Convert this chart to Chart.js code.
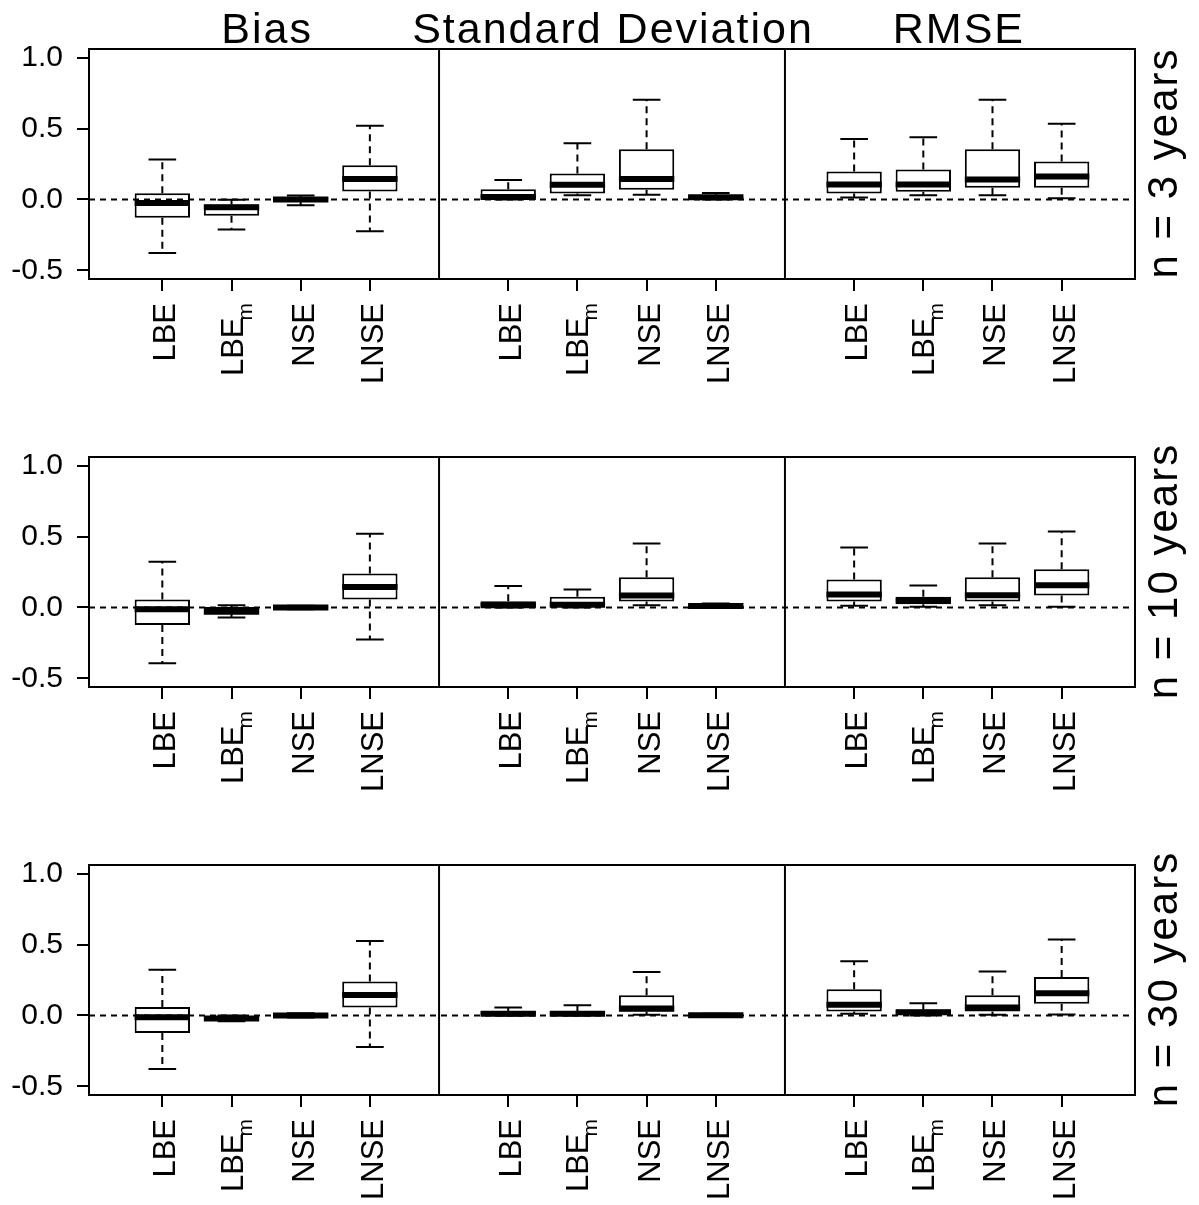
<!DOCTYPE html>
<html>
<head>
<meta charset="utf-8">
<script src="https://cdn.jsdelivr.net/npm/chart.js@4.4.1/dist/chart.umd.min.js"></script>
<style>
html,body{margin:0;padding:0;background:#fff;overflow:hidden;}
#wrap{position:relative;width:1199px;height:1205px;overflow:hidden;background:#fff;}
canvas{position:absolute;left:0;}
</style>
</head>
<body>
<div id="wrap">
<canvas id="row0" width="1199" height="408" style="top:0px"></canvas>
<canvas id="row1" width="1199" height="408" style="top:408px"></canvas>
<canvas id="row2" width="1199" height="408" style="top:816px"></canvas>
</div>
<script>
// ---------- DATA ----------
const panelTitles = ['Bias', 'Standard Deviation', 'RMSE'];
const rowLabels = ['n = 3 years', 'n = 10 years', 'n = 30 years'];
const catMain = ['LBE', 'LBE', 'NSE', 'LNSE'];
const catSub  = ['',    'm',   '',    ''];
const positions = [1, 2, 3, 4, 6, 7, 8, 9, 11, 12, 13, 14];
const panelDividers = [5, 10];
const yTicks = [-0.5, 0, 0.5, 1.0];
const ylim = [-0.5, 1.0];
const xlim = [0.5, 14.5];
const refValue = 0;

// order inside each row: Bias(LBE,LBEm,NSE,LNSE), SD(...), RMSE(...)
const n3_lower  = [-0.377, -0.211, -0.040, -0.223,  0.000, 0.030, 0.033, 0.000,  0.014, 0.030, 0.030, 0.009];
const n3_q1     = [-0.129, -0.115, -0.012,  0.056,  0.005, 0.042, 0.068, 0.008,  0.042, 0.054, 0.082, 0.082];
const n3_median = [-0.025, -0.055,  0.000,  0.145,  0.018, 0.103, 0.145, 0.015,  0.105, 0.105, 0.141, 0.162];
const n3_q3     = [ 0.044, -0.035,  0.015,  0.241,  0.072, 0.183, 0.354, 0.025,  0.197, 0.211, 0.354, 0.267];
const n3_upper  = [ 0.281, -0.002,  0.028,  0.520,  0.138, 0.396, 0.703, 0.045,  0.426, 0.438, 0.703, 0.534];

const n10_lower  = [-0.393, -0.070, -0.012, -0.225,  0.000, 0.000, 0.016, 0.000,  0.012, 0.005, 0.016, 0.005];
const n10_q1     = [-0.124, -0.045, -0.005,  0.056,  0.005, 0.008, 0.042, 0.004,  0.042, 0.023, 0.042, 0.084];
const n10_median = [-0.012, -0.030,  0.000,  0.145,  0.016, 0.020, 0.085, 0.010,  0.091, 0.050, 0.087, 0.157];
const n10_q3     = [ 0.056,  0.003,  0.005,  0.239,  0.044, 0.075, 0.213, 0.018,  0.197, 0.075, 0.213, 0.269];
const n10_upper  = [ 0.323,  0.016,  0.012,  0.520,  0.152, 0.126, 0.450, 0.028,  0.422, 0.155, 0.450, 0.536];

const n30_lower  = [-0.377, -0.040, -0.015, -0.222,  0.000, 0.000, 0.005, 0.000,  0.012, 0.000, 0.005, 0.007];
const n30_q1     = [-0.124, -0.032, -0.008,  0.056,  0.003, 0.003, 0.026, 0.000,  0.028, 0.007, 0.028, 0.082];
const n30_median = [-0.012, -0.022,  0.000,  0.145,  0.012, 0.012, 0.050, 0.002,  0.075, 0.023, 0.056, 0.157];
const n30_q3     = [ 0.059, -0.008,  0.008,  0.239,  0.028, 0.028, 0.143, 0.009,  0.185, 0.042, 0.143, 0.272];
const n30_upper  = [ 0.323,  0.000,  0.015,  0.525,  0.056, 0.073, 0.307, 0.013,  0.382, 0.087, 0.309, 0.536];

// ---------- STYLE ----------
const FONT = '"Liberation Sans", Arial, Helvetica, sans-serif';
const BOX_HALF = 0.4;   // boxwex 0.8
const CAP_HALF = 0.2;   // staplewex 0.5
const EXPAND = 0.04;

Chart.defaults.font.family = FONT;
Chart.defaults.color = '#000';

const rows = [
  {lower: n3_lower,  q1: n3_q1,  median: n3_median,  q3: n3_q3,  upper: n3_upper},
  {lower: n10_lower, q1: n10_q1, median: n10_median, q3: n10_q3, upper: n10_upper},
  {lower: n30_lower, q1: n30_q1, median: n30_median, q3: n30_q3, upper: n30_upper}
];

const decor = {
  id: 'decor',
  afterDatasetsDraw(chart) {
    const {ctx, chartArea: a, scales: {x, y}} = chart;
    ctx.save();
    ctx.strokeStyle = '#000';
    ctx.lineWidth = 2;
    // reference line
    ctx.setLineDash([6, 5]);
    const y0 = y.getPixelForValue(refValue);
    ctx.beginPath(); ctx.moveTo(a.left, y0); ctx.lineTo(a.right, y0); ctx.stroke();
    ctx.setLineDash([]);
    // dividers
    panelDividers.forEach(d => {
      const px = x.getPixelForValue(d);
      ctx.beginPath(); ctx.moveTo(px, a.top); ctx.lineTo(px, a.bottom); ctx.stroke();
    });
    ctx.strokeRect(a.left, a.top, a.right - a.left, a.bottom - a.top);
    ctx.restore();
  },
  afterDraw(chart, args, opts) {
    const {ctx, chartArea: a, scales: {x}} = chart;
    ctx.save();
    ctx.fillStyle = '#000';
    // category labels (rotated)
    const endY = a.bottom + 24;
    positions.forEach((p, i) => {
      const k = i % catMain.length;
      const px = x.getPixelForValue(p);
      const main = catMain[k], sub = catSub[k];
      ctx.textAlign = 'right';
      ctx.textBaseline = 'alphabetic';
      if (!sub) {
        ctx.save();
        ctx.translate(px + 13, endY);
        ctx.rotate(-Math.PI / 2);
        ctx.font = '31px ' + FONT;
        ctx.fillText(main, 0, 0);
        ctx.restore();
      } else {
        ctx.font = '21px ' + FONT;
        const sw = ctx.measureText(sub).width;
        ctx.save();
        ctx.translate(px + 20, endY);
        ctx.rotate(-Math.PI / 2);
        ctx.fillText(sub, 0, 0);
        ctx.restore();
        ctx.save();
        ctx.translate(px + 11, endY + sw - 3);
        ctx.rotate(-Math.PI / 2);
        ctx.font = '31px ' + FONT;
        ctx.fillText(main, 0, 0);
        ctx.restore();
      }
    });
    // titles
    if (opts.showTitles) {
      ctx.font = '43px ' + FONT;
      ctx.textAlign = 'center';
      ctx.textBaseline = 'alphabetic';
      try { ctx.letterSpacing = '2px'; } catch (e) {}
      panelTitles.forEach((t, j) => {
        const grp = positions.slice(j * 4, j * 4 + 4);
        const c = (grp[0] + grp[grp.length - 1]) / 2;
        ctx.fillText(t, x.getPixelForValue(c) + 1, a.top - 6);
      });
    }
    // row label
    ctx.save();
    ctx.font = '42px ' + FONT;
    try { ctx.letterSpacing = '2px'; } catch (e) {}
    ctx.textAlign = 'center';
    ctx.textBaseline = 'alphabetic';
    ctx.translate(a.right + 42, (a.top + a.bottom) / 2);
    ctx.rotate(-Math.PI / 2);
    ctx.fillText(opts.rowLabel, 1, 0);
    ctx.restore();
    ctx.restore();
  }
};

function buildRow(r) {
  const d = rows[r];
  const boxes = positions.map((p, i) => ({x: p, y: [d.q1[i], d.q3[i]]}));
  const meds = [], whisk = [], caps = [];
  positions.forEach((p, i) => {
    meds.push({x: p - BOX_HALF, y: d.median[i]}, {x: p + BOX_HALF, y: d.median[i]}, {x: p, y: null});
    whisk.push({x: p, y: d.q3[i]}, {x: p, y: d.upper[i]}, {x: p, y: null},
               {x: p, y: d.q1[i]}, {x: p, y: d.lower[i]}, {x: p, y: null});
    caps.push({x: p - CAP_HALF, y: d.upper[i]}, {x: p + CAP_HALF, y: d.upper[i]}, {x: p, y: null},
              {x: p - CAP_HALF, y: d.lower[i]}, {x: p + CAP_HALF, y: d.lower[i]}, {x: p, y: null});
  });
  const xr = xlim[1] - xlim[0], yr = ylim[1] - ylim[0];
  const lineCommon = {type: 'line', borderColor: '#000', pointRadius: 0, pointHoverRadius: 0,
                      tension: 0, fill: false, spanGaps: false, borderCapStyle: 'butt'};
  new Chart(document.getElementById('row' + r), {
    type: 'bar',
    data: {
      datasets: [
        Object.assign({}, lineCommon, {label: 'median', data: meds, borderWidth: 6, order: 0}),
        Object.assign({}, lineCommon, {label: 'staple', data: caps, borderWidth: 2, order: 1}),
        {type: 'bar', label: 'box', data: boxes, backgroundColor: '#fff', borderColor: '#000',
         borderWidth: 2, borderSkipped: false, barPercentage: 0.8, categoryPercentage: 1.0, order: 2},
        Object.assign({}, lineCommon, {label: 'whisker', data: whisk, borderWidth: 2, borderDash: [7, 5], order: 3})
      ]
    },
    options: {
      responsive: false,
      animation: false,
      events: [],
      layout: {padding: {left: 0, top: 49, right: 64, bottom: 0}},
      plugins: {
        legend: {display: false},
        tooltip: {enabled: false},
        title: {display: false},
        decor: {showTitles: r === 0, rowLabel: rowLabels[r]}
      },
      scales: {
        x: {
          type: 'linear',
          offset: false,
          min: xlim[0] - EXPAND * xr,
          max: xlim[1] + EXPAND * xr,
          afterBuildTicks: (s) => { s.ticks = positions.map(v => ({value: v})); },
          afterFit: (s) => { s.height = 129; },
          ticks: {display: false},
          grid: {display: true, drawOnChartArea: false, drawTicks: true, tickLength: 12,
                 color: '#000', lineWidth: 2, offset: false},
          border: {display: false}
        },
        y: {
          type: 'linear',
          min: ylim[0] - EXPAND * yr,
          max: ylim[1] + EXPAND * yr,
          afterBuildTicks: (s) => { s.ticks = yTicks.map(v => ({value: v})); },
          afterFit: (s) => { s.width = 89; },
          ticks: {font: {size: 30, family: FONT}, color: '#000', padding: 14,
                  callback: (v) => Number(v).toFixed(1)},
          grid: {display: true, drawOnChartArea: false, drawTicks: true, tickLength: 12,
                 color: '#000', lineWidth: 2},
          border: {display: false}
        }
      }
    },
    plugins: [decor]
  });
}

[0, 1, 2].forEach(buildRow);
</script>
</body>
</html>
